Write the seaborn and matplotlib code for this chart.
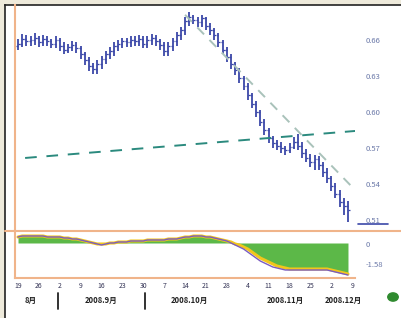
import numpy as np
import pandas as pd
import matplotlib
matplotlib.use("Agg")
import matplotlib.pyplot as plt
import seaborn as sns

sns.set_theme(style="white")
plt.rcParams['font.family'] = ['Noto Sans CJK SC', 'DejaVu Sans']

# ---------------- data ----------------
closes = [0.657, 0.661, 0.659, 0.660, 0.662, 0.658, 0.661, 0.659, 0.657, 0.660,
          0.655, 0.652, 0.654, 0.656, 0.653, 0.648, 0.643, 0.638, 0.636, 0.640,
          0.644, 0.648, 0.651, 0.655, 0.657, 0.659, 0.658, 0.660, 0.659, 0.661,
          0.657, 0.660, 0.662, 0.659, 0.656, 0.651, 0.655, 0.659, 0.664, 0.668,
          0.676, 0.679, 0.677, 0.675, 0.678, 0.672, 0.668, 0.664, 0.658, 0.652,
          0.646, 0.640, 0.635, 0.628, 0.622, 0.614, 0.607, 0.600, 0.592, 0.585,
          0.578, 0.574, 0.572, 0.570, 0.568, 0.571, 0.575, 0.572, 0.566, 0.562,
          0.558, 0.561, 0.556, 0.550, 0.545, 0.538, 0.532, 0.525, 0.522, 0.518]
highs = [0.661, 0.665, 0.664, 0.663, 0.666, 0.663, 0.664, 0.663, 0.661, 0.663,
         0.662, 0.658, 0.657, 0.659, 0.658, 0.655, 0.650, 0.646, 0.641, 0.643,
         0.647, 0.651, 0.654, 0.658, 0.660, 0.662, 0.662, 0.663, 0.663, 0.664,
         0.663, 0.663, 0.665, 0.664, 0.661, 0.658, 0.658, 0.662, 0.667, 0.671,
         0.679, 0.683, 0.681, 0.679, 0.681, 0.679, 0.674, 0.670, 0.666, 0.660,
         0.654, 0.648, 0.642, 0.637, 0.630, 0.624, 0.616, 0.609, 0.602, 0.594,
         0.587, 0.580, 0.577, 0.575, 0.572, 0.574, 0.579, 0.582, 0.575, 0.569,
         0.565, 0.564, 0.563, 0.558, 0.553, 0.547, 0.541, 0.535, 0.528, 0.526]
lows = [0.652, 0.654, 0.655, 0.655, 0.656, 0.654, 0.655, 0.655, 0.653, 0.653,
        0.651, 0.648, 0.649, 0.651, 0.649, 0.644, 0.639, 0.634, 0.632, 0.632,
        0.636, 0.640, 0.644, 0.647, 0.651, 0.653, 0.654, 0.654, 0.655, 0.655,
        0.653, 0.653, 0.656, 0.655, 0.652, 0.647, 0.647, 0.651, 0.655, 0.660,
        0.664, 0.672, 0.673, 0.671, 0.671, 0.668, 0.664, 0.660, 0.654, 0.648,
        0.642, 0.636, 0.631, 0.624, 0.618, 0.610, 0.603, 0.596, 0.588, 0.581,
        0.574, 0.570, 0.568, 0.566, 0.564, 0.566, 0.569, 0.568, 0.562, 0.558,
        0.554, 0.552, 0.552, 0.546, 0.541, 0.534, 0.528, 0.521, 0.514, 0.508]
first_open = 0.655

osc_purple = [6, 7, 7, 7, 7, 7, 7, 6, 6, 6, 6,
              5, 5, 4, 4, 3, 2, 1, 0,
              -1, -2, -1,
              0, 0, 1, 1, 1, 2, 2, 2,
              2, 3, 3, 3, 3, 3, 4, 4, 4, 5, 6,
              6, 7, 7, 7, 6, 6, 5,
              4, 3, 2, 0,
              -2, -4, -6, -9, -12, -15, -18, -20, -22, -24, -25, -26,
              -27, -27, -27, -27, -27, -27, -27, -27, -27, -27, -27,
              -28, -29, -30, -31, -32]
osc_yellow = [6, 7, 7, 7, 7, 7, 7, 6, 6, 6, 6,
              5, 5, 4, 4, 3, 2, 1, 0,
              -1, -1, -1,
              0, 0, 1, 1, 1, 2, 2, 2,
              2, 3, 3, 3, 3, 3, 4, 4, 4, 5, 6,
              6, 7, 7, 7, 6, 6, 5,
              4, 3, 2, 1,
              -1, -2, -4, -6, -9, -12, -15, -17, -19, -21, -23, -24,
              -25, -26, -26, -26, -26, -26, -26, -26, -26, -26, -26,
              -27, -28, -29, -30, -31]

trend1_x = [1.7, 80.7]
trend1_y = [0.5617, 0.5842]
trend2_x = [40.0, 80.7]
trend2_y = [0.681, 0.535]

price_ticks = [0.66, 0.63, 0.60, 0.57, 0.54, 0.51]
price_labels = ["0.66", "0.63", "0.60", "0.57", "0.54", "0.51"]
osc_ticks = [-1, -21]
osc_labels = ["0", "-1.58"]

date_pos = [0, 5, 10, 15, 20, 25, 30, 35, 40, 45, 50, 55, 60, 65, 70, 75, 80]
date_labels = ["19", "26", "2", "9", "16", "23", "30", "7", "14", "21",
               "28", "4", "11", "18", "25", "2", "9"]
month_pos = [3, 20, 41, 64, 78]
month_labels = ["8月", "2008.9月", "2008.10月", "2008.11月", "2008.12月"]

# ---------------- figure ----------------
W, H = 402, 318
fig = plt.figure(figsize=(W / 100, H / 100), dpi=100)
fig.patch.set_facecolor("#eeeadb")

def fx(px):
    return px / W

def fy(py):
    return 1 - py / H

# white sheet with black top/left border
sheet = fig.add_axes([fx(5), 0, 1 - fx(5), fy(5)])
sheet.set_facecolor("white")
sheet.set_xticks([]); sheet.set_yticks([])
for s in ["right", "bottom"]:
    sheet.spines[s].set_visible(False)
for s in ["top", "left"]:
    sheet.spines[s].set_color("#222222")
    sheet.spines[s].set_linewidth(1.2)

L, R = 15, 355
ax = fig.add_axes([fx(L), fy(231), fx(R - L), fy(5) - fy(231)])
ax2 = fig.add_axes([fx(L), fy(278), fx(R - L), fy(231) - fy(278)])

n = len(closes)
idx = np.arange(n)
opens = [first_open] + closes[:-1]
df = pd.DataFrame({"i": idx, "open": opens, "high": highs, "low": lows, "close": closes})

bar_col = "#3b48a8"
ax.vlines(df["i"], df["low"], df["high"], color=bar_col, lw=1.3)
ax.hlines(df["open"], df["i"] - 0.45, df["i"], color=bar_col, lw=0.9)
ax.hlines(df["close"], df["i"], df["i"] + 0.45, color=bar_col, lw=0.9)

sns.lineplot(x=trend1_x, y=trend1_y, ax=ax, color="#2b8a7e", lw=1.4,
             linestyle=(0, (6, 5)))
sns.lineplot(x=trend2_x, y=trend2_y, ax=ax, color="#a9c2ba", lw=1.4,
             linestyle=(0, (5, 4)))

xmin, xmax = -0.72, 80.68
ax.set_xlim(xmin, xmax)
ax.set_ylim(0.50083, 0.6892)
ax.set_facecolor("none")
for s in ax.spines.values():
    s.set_visible(False)
ax.spines["left"].set_visible(True)
ax.spines["left"].set_color("#f0b48a")
ax.spines["left"].set_linewidth(1.5)
ax.set_xticks([])
ax.yaxis.tick_right()
ax.set_yticks(price_ticks)
ax.set_yticklabels(price_labels)
ax.tick_params(axis="y", length=0, pad=8, labelsize=5.5, labelcolor="#6a78a8")
ax.set_xlabel(""); ax.set_ylabel("")
# current price marker
ax.plot([81.5, 88.5], [0.5065, 0.5065], color=bar_col, lw=1.2, clip_on=False)

# oscillator panel
osc = pd.DataFrame({"i": idx, "purple": osc_purple, "yellow": osc_yellow})
ax2.fill_between(osc["i"], 0, osc["yellow"], color="#5cb848", lw=0)
sns.lineplot(data=osc, x="i", y="yellow", ax=ax2, color="#f2c61c", lw=2.2)
sns.lineplot(data=osc, x="i", y="purple", ax=ax2, color="#7a5cc0", lw=1.0)
ax2.set_xlim(xmin, xmax)
ax2.set_ylim(-35, 12)
ax2.set_facecolor("none")
for s in ax2.spines.values():
    s.set_visible(False)
for s in ["left", "bottom"]:
    ax2.spines[s].set_visible(True)
    ax2.spines[s].set_color("#f0b48a")
    ax2.spines[s].set_linewidth(1.5)
ax2.yaxis.tick_right()
ax2.set_yticks(osc_ticks)
ax2.set_yticklabels(osc_labels)
ax2.tick_params(axis="y", length=0, pad=8, labelsize=5.5, labelcolor="#6a78a8")
ax2.set_xticks(date_pos)
ax2.set_xticklabels(date_labels)
ax2.tick_params(axis="x", length=2, width=0.8, color="#333333", pad=1,
                labelsize=5, labelcolor="#333355", direction="out")
ax2.set_xlabel(""); ax2.set_ylabel("")
# month row sits ~22 px below the panel bottom (panel is 47 px tall)
for p, t in zip(month_pos, month_labels):
    ax2.text(p, -0.47, t, transform=ax2.get_xaxis_transform(), ha="center",
             va="center", fontsize=5.5, color="#222222", fontweight="bold")
for p in [9.5, 30.5]:
    ax2.plot([p, p], [-0.32, -0.66], transform=ax2.get_xaxis_transform(),
             color="#222222", lw=1.3, clip_on=False)

# separator line across full width
fig.add_artist(plt.Line2D([fx(5), 1], [fy(231), fy(231)], color="#f0b48a", lw=1.5))

# green status dot
fig.add_artist(matplotlib.patches.Circle((fx(393), fy(297)), 0.013, color="#2f8a2f",
                                         transform=fig.transFigure))

fig.savefig("out.png", dpi=100, facecolor=fig.get_facecolor())
